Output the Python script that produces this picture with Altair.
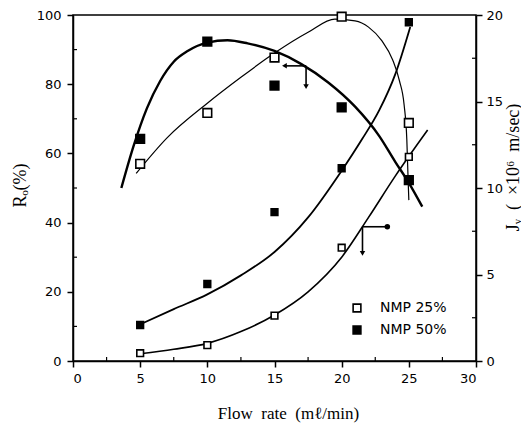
import altair as alt
import pandas as pd

# ---------------- data ----------------
flow = [5, 10, 15, 20, 25]
series = ["NMP 25%", "NMP 50%"]

ro_nmp25 = [57.0, 71.7, 87.7, 99.5, 68.8]     # left axis, open squares
ro_nmp50 = [64.2, 92.3, 79.6, 73.3, 52.3]     # left axis, filled squares
jv_nmp25 = [0.45, 0.92, 2.62, 6.55, 11.8]     # right axis, open squares
jv_nmp50 = [2.08, 4.45, 8.6, 11.14, 19.58]    # right axis, filled squares

# fitted curves as drawn in the figure (traced points)
ro50_fit_x = [3.6, 4.5, 5.5, 6.5, 7.5, 8.5, 10.0, 11.5, 13.0, 15.0, 17.0, 19.0, 21.0, 22.8, 24.0, 25.0, 26.0]
ro50_fit_y = [50.0, 62.0, 73.0, 81.0, 86.5, 89.5, 92.0, 92.7, 91.8, 89.6, 85.8, 80.5, 73.5, 65.0, 57.5, 51.5, 44.6]

ro25_fit_x = [4.7, 7.0, 10.0, 12.5, 15.0, 17.5, 19.5, 21.0, 22.0, 23.0, 23.8, 24.3, 24.65, 24.85, 24.95, 25.0]
ro25_fit_y = [54.2, 64.5, 74.5, 82.0, 89.0, 95.0, 98.8, 98.3, 96.5, 92.5, 87.0, 81.0, 74.0, 64.0, 52.0, 46.5]

jv50_fit_x = [5.1, 7.5, 10.0, 12.5, 15.0, 17.5, 20.0, 21.5, 22.8, 24.0, 25.1]
jv50_fit_y = [2.15, 3.0, 3.85, 4.95, 6.3, 8.3, 11.0, 12.8, 14.5, 16.6, 19.3]

jv25_fit_x = [5.0, 7.5, 10.0, 12.5, 15.0, 17.5, 20.0, 22.0, 24.0, 26.4]
jv25_fit_y = [0.42, 0.68, 1.02, 1.7, 2.66, 4.0, 6.0, 8.3, 10.7, 13.35]

# axis-pointer arrows (start on curve, horizontal end, vertical end)
arrow_ro = {"x": 17.35, "y": 85.3, "x_end": 15.74, "y_end": 79.3}
arrow_jv = {"x": 21.55, "y": 7.76, "x_end": 23.4, "y_end": 6.22}

x_ticks = [0, 5, 10, 15, 20, 25, 30]
x_minor = [2.5, 7.5, 12.5, 17.5, 22.5, 27.5]
ro_ticks = [0, 20, 40, 60, 80, 100]
ro_minor = [10, 30, 50, 70, 90]
jv_ticks = [0, 5, 10, 15, 20]
jv_minor = [2.5, 7.5, 12.5, 17.5]

# ---------------- layout / style ----------------
W, H = 403, 346
SANS = "DejaVu Sans"
SERIF = "Liberation Serif"

x_axis = alt.Axis(values=x_ticks, title="Flow\u2002rate\u2002(mℓ/min)", titleFont=SERIF,
                  titleFontSize=17, titleFontWeight="normal", titleX=215, titleY=52,
                  titleAlign="center", titleBaseline="middle", labelPadding=5, format="d")
X = alt.X("flow:Q", scale=alt.Scale(domain=[0, 30], nice=False, zero=False), axis=x_axis)

ro_axis = alt.Axis(values=ro_ticks, orient="left", title="Rₒ(%)", titleFont=SERIF,
                   titleFontSize=18, titleFontWeight="normal", titleAngle=270,
                   titleX=-53, titleY=170, titleAlign="center", titleBaseline="middle",
                   labelPadding=6)
Y_ro = alt.Y("val:Q", scale=alt.Scale(domain=[0, 100], nice=False), axis=ro_axis)

jv_axis = alt.Axis(values=jv_ticks, orient="right", title="Jᵥ\u2002(\u2002×10⁶\u2002m/sec)", titleFont=SERIF,
                   titleFontSize=18, titleFontWeight="normal", titleAngle=270,
                   titleX=37, titleY=152, titleAlign="center", titleBaseline="middle",
                   labelPadding=4)
Y_jv = alt.Y("val:Q", scale=alt.Scale(domain=[0, 20], nice=False), axis=jv_axis)

legend = alt.Legend(title=None, orient="none", legendX=277, legendY=286, symbolType="square",
                    symbolStrokeColor="black", symbolStrokeWidth=1.6, symbolSize=60,
                    labelFont=SANS, labelFontSize=14, labelColor="black", labelOffset=16,
                    rowPadding=6, padding=0)
FILL = alt.Fill("series:N", scale=alt.Scale(domain=series, range=["white", "black"]), legend=legend)


def pts_df(a, b):
    return pd.DataFrame({"flow": flow + flow, "val": a + b,
                         "series": [series[0]] * len(flow) + [series[1]] * len(flow)})


def fit_df(xs, ys):
    return pd.DataFrame({"flow": xs, "val": ys})


def fit_line(xs, ys, Y, width):
    return alt.Chart(fit_df(xs, ys)).mark_line(interpolate="monotone", color="black",
                                               strokeWidth=width).encode(x=X, y=Y)


def points(a, b, Y, size):
    return alt.Chart(pts_df(a, b)).mark_point(shape="square", filled=True, size=size, stroke="black",
                                              strokeWidth=1.6, opacity=1).encode(x=X, y=Y, fill=FILL)


def arrow(a, Y, hshape):
    hdf = pd.DataFrame({"flow": [a["x"]], "flow2": [a["x_end"]], "val": [a["y"]]})
    vdf = pd.DataFrame({"flow": [a["x"]], "val": [a["y"]], "val2": [a["y_end"]]})
    hr = alt.Chart(hdf).mark_rule(color="black", strokeWidth=1.6).encode(x=X, x2="flow2:Q", y=Y)
    vr = alt.Chart(vdf).mark_rule(color="black", strokeWidth=1.6).encode(x=X, y=Y, y2="val2:Q")
    hh = alt.Chart(pd.DataFrame({"flow": [a["x_end"]], "val": [a["y"]]})).mark_point(
        shape=hshape, filled=True, color="black", size=30, opacity=1).encode(x=X, y=Y)
    vh = alt.Chart(pd.DataFrame({"flow": [a["x"]], "val": [a["y_end"]]})).mark_point(
        shape="triangle-down", filled=True, color="black", size=30, opacity=1).encode(x=X, y=Y)
    return [hr, vr, hh, vh]


ro_minor_rule = alt.Chart(pd.DataFrame({"val": ro_minor})).mark_rule(color="black", strokeWidth=1.2).encode(
    y=Y_ro, x=alt.value(0), x2=alt.value(4))
x_minor_rule = alt.Chart(pd.DataFrame({"flow": x_minor})).mark_rule(color="black", strokeWidth=1.2).encode(
    x=X, y=alt.value(H), y2=alt.value(H - 4))
jv_minor_rule = alt.Chart(pd.DataFrame({"val": jv_minor})).mark_rule(color="black", strokeWidth=1.2).encode(
    y=Y_jv, x=alt.value(W), x2=alt.value(W - 4))

ro_group = alt.layer(
    fit_line(ro50_fit_x, ro50_fit_y, Y_ro, 2.4),
    fit_line(ro25_fit_x, ro25_fit_y, Y_ro, 1.2),
    *arrow(arrow_ro, Y_ro, "triangle-left"),
    ro_minor_rule,
    x_minor_rule,
    points(ro_nmp25, ro_nmp50, Y_ro, 75),
)

jv_group = alt.layer(
    fit_line(jv50_fit_x, jv50_fit_y, Y_jv, 1.8),
    fit_line(jv25_fit_x, jv25_fit_y, Y_jv, 1.6),
    *arrow(arrow_jv, Y_jv, "circle"),
    jv_minor_rule,
    points(jv_nmp25, jv_nmp50, Y_jv, 45),
)

chart = alt.layer(ro_group, jv_group).resolve_scale(y="independent").properties(
    width=W, height=H,
    autosize=alt.AutoSizeParams(type="none"),
    padding={"left": 65, "top": 7, "right": 45, "bottom": 62},
).configure_view(stroke="black", strokeWidth=1.5).configure_axis(
    grid=False, domainColor="black", domainWidth=1.5, tickColor="black", tickWidth=1.5,
    tickSize=6, labelFont=SANS, labelFontSize=13, labelColor="black", titleColor="black",
)

chart.save("out.html", embed_options={"renderer": "svg", "actions": False})
